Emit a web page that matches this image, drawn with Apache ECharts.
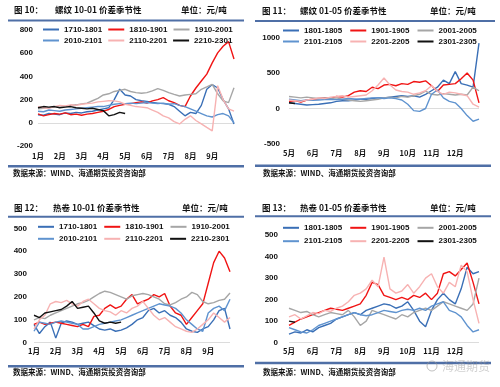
<!DOCTYPE html>
<html><head><meta charset="utf-8">
<script src="https://cdn.jsdelivr.net/npm/echarts@6/dist/echarts.min.js"></script>
<style>html,body{margin:0;padding:0;background:#fff}#c{width:500px;height:387px}</style>
</head><body><div id="c"></div>
<script>
// categories (approx weekly sample dates)
const dates1 = ['01-01','01-08','01-16','01-24','02-01','02-08','02-16','02-24','03-01','03-08','03-16','03-24','04-01','04-08','04-16','04-24','05-01','05-08','05-16','05-24','06-01','06-08','06-16','06-24','07-01','07-08','07-16','07-24','08-01','08-08','08-16','08-24','09-01','09-08','09-16','09-24','09-30'];
const dates2 = ['05-01','05-08','05-16','05-24','06-01','06-08','06-16','06-24','07-01','07-08','07-16','07-24','08-01','08-08','08-16','08-24','09-01','09-08','09-16','09-24','10-01','10-08','10-16','10-24','11-01','11-08','11-16','11-24','12-01','12-08','12-16','12-24','12-31'];

// 图10 螺纹 10-01
const p1_1710 = [70,65,80,75,70,85,80,90,85,95,100,110,120,130,200,290,240,231,200,190,185,175,170,165,160,140,100,60,90,80,150,290,330,300,200,120,-10];
const p1_1810 = [77,60,70,80,75,85,70,75,65,75,80,90,100,115,140,150,160,165,174,180,170,189,200,217,190,174,150,140,231,300,360,420,517,603,660,700,550];
const p1_1910 = [120,125,130,140,135,140,150,155,163,170,190,210,240,250,270,280,289,270,260,255,260,275,295,280,260,245,231,240,245,250,289,310,332,250,189,174,303];
const p1_2010 = [100,95,110,105,100,110,115,120,125,130,135,140,140,150,160,165,165,170,165,170,175,170,165,170,160,165,150,140,120,100,80,60,50,70,80,60,0];
const p1_2110 = [140,130,125,140,150,145,155,150,160,165,170,180,185,190,189,180,160,150,140,135,130,110,90,60,43,10,-10,30,60,20,-9,-40,-69,320,200,120,100];
const p1_2210 = [130,140,135,140,130,135,140,130,125,120,125,115,105,60,70,90,80];

// 图11 螺纹 01-05
const p2_1801 = [80,70,60,50,55,60,70,80,100,110,110,120,130,130,140,150,150,160,170,180,170,180,160,200,250,300,400,350,520,350,330,300,920];
const p2_1901 = [100,110,90,120,130,140,150,140,170,160,180,230,250,240,300,280,330,340,320,350,340,380,370,390,320,240,330,340,350,420,500,400,80];
const p2_2001 = [170,160,150,160,150,140,150,140,150,130,120,110,100,110,120,130,150,160,150,170,160,180,200,244,200,190,210,200,190,200,190,300,250];
const p2_2101 = [130,120,110,120,115,120,125,130,125,130,140,135,130,140,150,150,140,150,140,120,60,-30,-40,0,200,260,150,100,80,0,-100,-180,-150];
const p2_2201 = [120,110,100,120,130,150,140,160,170,180,160,170,180,190,250,330,430,330,260,240,230,200,220,250,320,240,200,230,220,200,180,60,20];
const p2_2301 = [80,70];

// 图12 热卷 10-01
const p3_1710 = [80,40,70,90,20,85,95,90,80,85,90,75,60,55,60,50,55,65,80,100,110,140,150,130,140,120,110,90,60,50,45,60,70,100,140,150,60];
const p3_1810 = [80,90,80,85,90,85,80,75,70,80,70,115,120,150,165,150,160,190,210,170,180,190,210,200,215,160,130,120,80,110,140,170,260,350,400,370,310];
const p3_1910 = [100,110,105,120,130,140,150,160,170,175,185,200,215,225,220,210,200,190,205,210,215,210,200,190,170,165,175,190,200,220,210,180,170,175,185,190,217];
const p3_2010 = [50,90,85,80,90,95,90,85,80,60,60,70,80,85,90,95,100,110,120,130,140,150,160,170,165,160,150,130,100,80,60,50,130,150,160,140,190];
const p3_2110 = [60,100,120,170,180,175,185,170,160,180,190,170,150,140,135,120,140,130,150,160,180,150,120,100,110,90,70,60,50,45,60,80,100,130,110,90,110];
const p3_2210 = [120,110,130,135,140,145,160,180,150,155,160,130,95,85,90,85,90];

// 图13 热卷 01-05
const p4_1801 = [40,50,45,60,50,70,80,90,110,120,130,140,130,150,160,170,180,175,160,170,190,150,100,74,150,200,230,200,180,250,350,320,330];
const p4_1901 = [80,95,110,120,130,140,150,160,155,150,160,170,180,220,280,270,220,210,200,210,200,220,210,230,200,230,320,330,310,340,370,280,180];
const p4_2001 = [160,150,140,145,130,120,130,140,135,130,150,120,80,100,150,140,130,120,110,130,120,140,150,160,150,170,190,180,170,160,150,180,300];
const p4_2101 = [70,60,50,45,60,80,90,100,110,120,130,140,130,125,130,140,150,145,140,150,155,150,160,150,170,180,190,150,140,120,80,50,60];
const p4_2201 = [120,130,110,125,140,135,150,145,160,170,190,220,230,250,290,260,397,250,230,240,270,230,260,300,320,260,230,280,260,360,330,200,90];
const p4_2301 = [100,95];

const names1 = ['1710-1801','1810-1901','1910-2001','2010-2101','2110-2201','2210-2301'];
const names2 = ['1801-1805','1901-1905','2001-2005','2101-2105','2201-2205','2301-2305'];
const colors = ['#3a6fb6','#f01414','#a6a6a6','#5f93cf','#f7b2b2','#111111'];

const panels = [
  {names:names1, data:[p1_1710,p1_1810,p1_1910,p1_2010,p1_2110,p1_2210], cats:dates1, min:-200,max:800,interval:200,
   grid:{left:38,top:30,width:196,height:116}, ylm:5, xlm:6, leg:{left:43,rows:[25.5,36.5],gap:6}},
  {names:names2, data:[p2_1801,p2_1901,p2_2001,p2_2101,p2_2201,p2_2301], cats:dates2, min:-500,max:1000,interval:500,
   grid:{left:289,top:37.5,width:190,height:106.5}, ylm:9, xlm:5, leg:{left:283,rows:[26.5,37.5],gap:8}},
  {names:names1, data:[p3_1710,p3_1810,p3_1910,p3_2010,p3_2110,p3_2210], cats:dates1, min:0,max:500,interval:100,
   grid:{left:34,top:228.3,width:196,height:114.4}, ylm:7, xlm:5, leg:{left:38,rows:[222.8,234.8],gap:7}},
  {names:names2, data:[p4_1801,p4_1901,p4_2001,p4_2101,p4_2201,p4_2301], cats:dates2, min:0,max:500,interval:100,
   grid:{left:289,top:235,width:190,height:107.7}, ylm:11, xlm:5, leg:{left:283,rows:[223.8,237.2],gap:8}}
];

const numFont = {fontSize:8, fontWeight:'bold', fontFamily:'Liberation Sans, Arial, sans-serif', color:'#111'};
const monthFont = {fontSize:7.5, fontWeight:'bold', fontFamily:'Noto Sans CJK SC, sans-serif', color:'#111'};

const grid=[], xAxis=[], yAxis=[], series=[], legend=[];
panels.forEach((p,i)=>{
  grid.push(Object.assign({containLabel:false}, p.grid));
  xAxis.push({type:'category', gridIndex:i, data:p.cats, boundaryGap:false,
    axisLine:{show:false}, axisTick:{show:false}, splitLine:{show:false},
    axisLabel:Object.assign({interval:0, margin:p.xlm,
      formatter:v=> v.endsWith('-01') ? (+v.slice(0,2))+'月' : ''}, monthFont)});
  yAxis.push({type:'value', gridIndex:i, min:p.min, max:p.max, interval:p.interval,
    axisLine:{show:false}, axisTick:{show:false}, splitLine:{show:false},
    axisLabel:Object.assign({margin:p.ylm, formatter:v=>String(v)}, numFont)});
  p.names.forEach((n,k)=>{
    const s = {type:'line', name:n, xAxisIndex:i, yAxisIndex:i, data:p.data[k],
      symbol:'none', showSymbol:false, color:colors[k],
      lineStyle:{width:1.4, color:colors[k]}, z: 2+k};
    if(k===0){
      s.markLine = {silent:true, symbol:'none', label:{show:false},
        lineStyle:{color:'#dcdcdc', type:'solid', width:1}, data:[{yAxis:0}], z:1};
    }
    series.push(s);
  });
  [0,1].forEach(r=>{
    legend.push({left:p.leg.left, top:p.leg.rows[r], orient:'horizontal',
      data:p.names.slice(r*3, r*3+3), icon:'rect', itemWidth:16, itemHeight:2,
      itemGap:p.leg.gap, padding:0, selectedMode:false,
      textStyle:{fontSize:8, fontWeight:'bold', fontFamily:'Liberation Sans, Arial, sans-serif', color:'#111'}});
  });
});

const titleFont = 'bold 8.5px "Noto Sans CJK SC"';
const srcFont = 'bold 7.5px "Noto Sans CJK SC"';
const ruleColor = '#4f6fa6';
function txt(x,y,t,font,fill){return {type:'text', x:x, y:y, silent:true, style:{text:t, font:font||titleFont, fill:fill||'#111', verticalAlign:'middle'}};}
function rule(x,y,w,h){return {type:'rect', silent:true, shape:{x:x,y:y,width:w,height:h}, style:{fill:ruleColor}};}

const graphic = [
  txt(14,10,'图 10：'), txt(55,10,'螺纹 10-01 价差季节性'), txt(181,10,'单位：元/吨'),
  txt(262,10.7,'图 11：'), txt(300,10.7,'螺纹 01-05 价差季节性'), txt(430,10.7,'单位：元/吨'),
  txt(14,207.3,'图 12：'), txt(53,207.3,'热卷 10-01 价差季节性'), txt(182,207.3,'单位：元/吨'),
  txt(262,207.3,'图 13：'), txt(300,207.3,'热卷 01-05 价差季节性'), txt(430,207.3,'单位：元/吨'),
  rule(8,19.5,236,2), rule(255,20,240,2), rule(8,215.7,236,2), rule(255,215.2,236,2),
  rule(8,165,236,2.5), rule(255,164.5,236,2.5), rule(8,365,236,2.5), rule(255,361.8,236,2.5),
  txt(13,172.7,'数据来源：WIND、海通期货投资咨询部',srcFont), txt(263,173,'数据来源：WIND、海通期货投资咨询部',srcFont),
  txt(13,371.7,'数据来源：WIND、海通期货投资咨询部',srcFont), txt(263,371.7,'数据来源：WIND、海通期货投资咨询部',srcFont),
  {type:'circle', silent:true, shape:{cx:432,cy:366,r:5}, style:{fill:'none', stroke:'rgba(150,150,150,0.6)', lineWidth:1}},
  txt(442,366,'海通期货','12px "Noto Sans CJK SC"','rgba(150,150,150,0.45)')
];

const chart = echarts.init(document.getElementById('c'), null, {renderer:'canvas'});
chart.setOption({animation:false, backgroundColor:'#fff', grid, xAxis, yAxis, series, legend, graphic});
</script></body></html>
